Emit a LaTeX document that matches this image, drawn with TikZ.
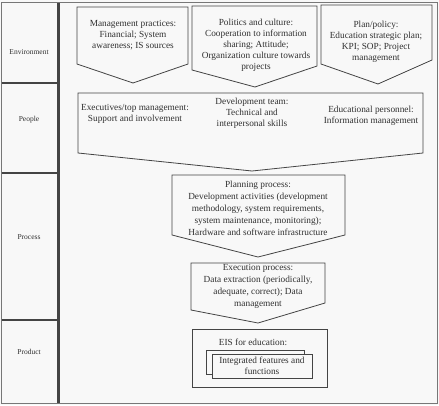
\documentclass[tikz,border=0pt]{standalone}
\usepackage{fontspec}
\setmainfont{Liberation Serif}
\definecolor{bg}{HTML}{F8F8F8}
\definecolor{ln}{HTML}{444444}
\definecolor{fr}{HTML}{777777}
\definecolor{tx}{HTML}{303030}
\begin{document}
\begin{tikzpicture}[x=1pt,y=-1pt,
  shapeline/.style={draw=ln,line width=0.8pt,line join=miter},
  txt/.style={text=tx,font=\fontsize{9.3}{11}\selectfont,align=center,inner sep=0pt},
  lbl/.style={text=tx,font=\fontsize{7.5}{9}\selectfont,inner sep=0pt}]
\useasboundingbox (0,0) rectangle (439,405);
\fill[bg] (0,0) rectangle (439,405);
% outer frame
\draw[fr,line width=0.8pt] (1.5,2.5) rectangle (437,403);
% left column dividers
\draw[ln,line width=1.2pt] (1.5,83) -- (58,83);
\draw[ln,line width=1.2pt] (1.5,173) -- (58,173);
\draw[ln,line width=1.2pt] (1.5,320) -- (58,320);
\draw[ln,line width=2.4pt] (58.5,2.5) -- (58.5,403);
% left labels
\node[lbl] (env) at (29,52) {Environment};
\node[lbl] (peo) at (29,120) {People};
\node[lbl] (pro) at (29,237) {Process};
\node[lbl] (prd) at (29,352) {Product};
% environment pentagons
\draw[shapeline] (77,7) -- (188,7) -- (188,64) -- (133,83) -- (77,64) -- cycle;
\draw[shapeline] (192,6) -- (317,6) -- (317,66) -- (255,87) -- (192,70) -- cycle;
\draw[shapeline] (321,5) -- (432,5) -- (432,60) -- (378,84) -- (321,64) -- cycle;
\node[txt,anchor=north] (mp) at (133,20) {Management practices:\\Financial; System\\awareness; IS sources};
\node[txt,anchor=north] (pc) at (256,19) {Politics and culture:\\Cooperation to information\\sharing; Attitude;\\Organization culture towards\\projects};
\node[txt,anchor=north] (pp) at (376,21) {Plan/policy:\\Education strategic plan;\\KPI; SOP; Project\\management};
% people pentagon
\draw[shapeline] (78,93) -- (423,93) -- (423,153) -- (252,171) -- (78,153) -- cycle;
\node[txt,anchor=north] (ex) at (135,104) {Executives/top management:\\Support and involvement};
\node[txt,anchor=north] (dt) at (252,98) {Development team:\\Technical and\\interpersonal skills};
\node[txt,anchor=north] (ep) at (371,106) {Educational personnel:\\Information management};
% planning
\draw[shapeline] (172,175) -- (345,175) -- (345,235) -- (258,257) -- (172,235) -- cycle;
\node[txt,anchor=north,font=\fontsize{9.3}{12}\selectfont] (pl) at (258,181) {Planning process:\\Development activities (development\\methodology, system requirements,\\system maintenance, monitoring);\\Hardware and software infrastructure};
% execution
\draw[shapeline] (191,263) -- (325,263) -- (325,303) -- (258,323) -- (191,310) -- cycle;
\node[txt,anchor=north,font=\fontsize{9.3}{12}\selectfont] (exe) at (258,264) {Execution process:\\Data extraction (periodically,\\adequate, correct); Data\\management};
% EIS
\draw[shapeline] (192,329) rectangle (327,387);
\node[txt] (eis) at (253,342) {EIS for education:};
\draw[shapeline,fill=bg] (206,350) rectangle (304,374);
\draw[shapeline,fill=bg] (212,354) rectangle (312,378);
\node[txt] (int) at (262,366) {Integrated features and\\functions};
\end{tikzpicture}
\end{document}
